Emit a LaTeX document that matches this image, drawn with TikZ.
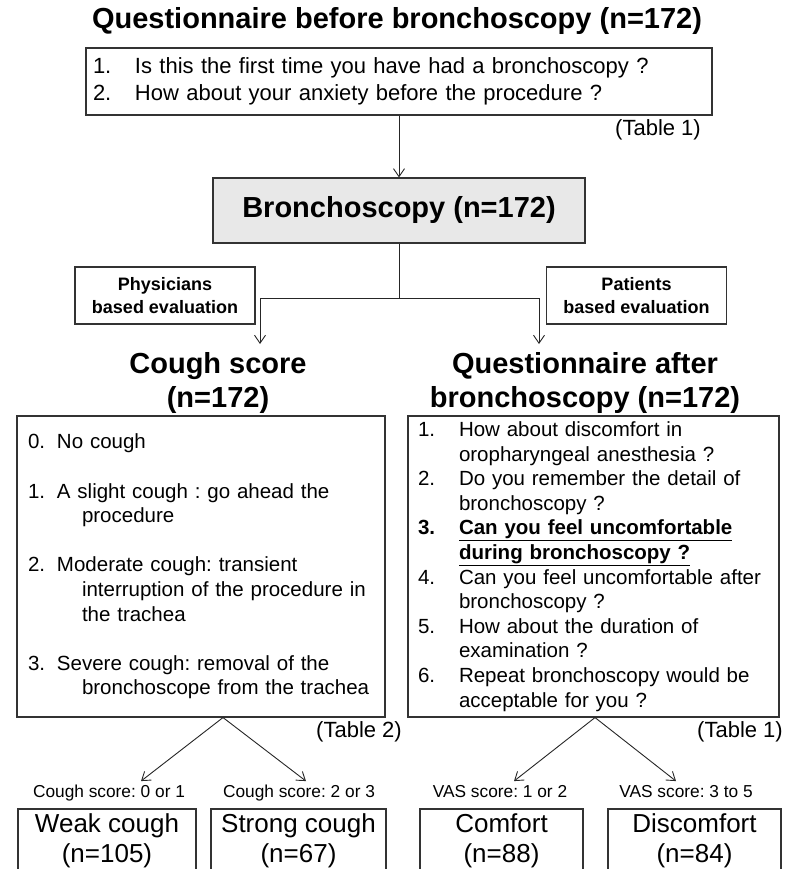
\documentclass[tikz,border=0pt]{standalone}
\usepackage{fontspec}
\setmainfont{Liberation Sans}
\usetikzlibrary{arrows.meta, positioning, calc}
\frenchspacing

\begin{document}
\begin{tikzpicture}[
    x=1pt, y=-1pt,
    >={Straight Barb[length=8pt,width=11pt]},
    every node/.style={align=center, text=black},
    line/.style={line width=0.9pt, draw=black!85},
    arr/.style={->, line width=0.9pt, draw=black!85},
    ttl/.style={font=\fontsize{29}{34}\selectfont\bfseries, inner sep=0pt},
    listbox/.style={
      rectangle, draw=black!80, line width=1.1pt,
      align=left, inner xsep=10pt, inner ysep=0pt
    },
    bronbox/.style={
      rectangle, draw=black!80, line width=1.1pt, fill=black!9,
      minimum width=372pt, minimum height=65pt,
      font=\fontsize{29}{34}\selectfont\bfseries
    },
    evalbox/.style={
      rectangle, draw=black!80, line width=1.1pt,
      minimum width=180pt, minimum height=57pt, inner sep=0pt,
      font=\fontsize{18}{23}\selectfont\bfseries
    },
    grpbox/.style={
      rectangle, draw=black!80, line width=1.1pt,
      minimum height=64pt, inner sep=0pt,
      font=\fontsize{26}{29.5}\selectfont
    },
    cut/.style={font=\fontsize{17.3}{20}\selectfont, inner sep=1pt,
      text height=0.73em, text depth=0.21em},
    tabref/.style={font=\fontsize{22}{26}\selectfont, inner sep=0pt, anchor=east}
  ]

    \useasboundingbox (0,0) rectangle (788,869);
    \clip (0,0) rectangle (788,869);

    % Questionnaire before the procedure
    \node[ttl] (pretitle) at (397,21) {Questionnaire before bronchoscopy (n=172)};
    \node[listbox, text width=612pt, inner xsep=7pt, minimum height=67pt,
          font=\fontsize{22}{27}\selectfont] (pre) at (399,81.5) {%
      \makebox[42pt][l]{1.}Is this the first time you have had a bronchoscopy ?\\
      \makebox[42pt][l]{2.}How about your anxiety before the procedure ?};
    \node[tabref] (pretab) at (701,130) {(Table 1)};

    % Procedure
    \node[bronbox] (bron) at (399,210.5) {Bronchoscopy (n=172)};
    \draw[arr] (pre.south) -- (bron.north);

    \coordinate (split) at (399,298);
    \coordinate (tocough) at (260,344);
    \coordinate (toqa) at (539,344);
    \draw[line] (bron.south) -- (split);
    \draw[arr] (split) -| (tocough);
    \draw[arr] (split) -| (toqa);

    \node[evalbox] (phys) at (165,295.5) {Physicians\\based evaluation};
    \node[evalbox] (pat) at (636.5,295.5) {Patients\\based evaluation};

    % Left column
    \node[ttl] (coughttl) at (218,383) {Cough score\\(n=172)};
    \node[listbox, text width=346pt, inner xsep=11pt, minimum height=301pt,
          font=\fontsize{20.5}{24.6}\selectfont] (cough) at (201,566.5) {%
      \makebox[29pt][l]{0.}No cough\\[24.6pt]
      \makebox[29pt][l]{1.}A slight cough : go ahead the\\
      \hspace*{54pt}procedure\\[24.6pt]
      \makebox[29pt][l]{2.}Moderate cough: transient\\
      \hspace*{54pt}interruption of the procedure in\\
      \hspace*{54pt}the trachea\\[24.6pt]
      \makebox[29pt][l]{3.}Severe cough: removal of the\\
      \hspace*{54pt}bronchoscope from the trachea};
    \node[tabref] (coughtab) at (402,732) {(Table 2)};

    \coordinate (coughsplit) at ([xshift=22pt]cough.south);
    \node[cut] (lweak) at (109,795) {Cough score: 0 or 1};
    \node[cut] (lstrong) at (299,795) {Cough score: 2 or 3};
    \draw[arr] (coughsplit) -- ([xshift=32pt,yshift=8pt]lweak.north);
    \draw[arr] (coughsplit) -- ([xshift=7pt,yshift=8pt]lstrong.north);

    \node[grpbox, minimum width=178pt] (weak) at (107,841) {Weak cough\\(n=105)};
    \node[grpbox, minimum width=175pt] (strong) at (298.5,841) {Strong cough\\(n=67)};

    % Right column
    \node[ttl] (qattl) at (585,383) {Questionnaire after\\bronchoscopy (n=172)};
    \node[listbox, text width=351pt, inner xsep=10pt, minimum height=301pt,
          font=\fontsize{20.5}{24.6}\selectfont] (qa) at (593.5,566.5) {%
      \makebox[41pt][l]{1.}How about discomfort in\\
      \hspace*{41pt}oropharyngeal anesthesia ?\\
      \makebox[41pt][l]{2.}Do you remember the detail of\\
      \hspace*{41pt}bronchoscopy ?\\
      \makebox[41pt][l]{\bfseries 3.}{\bfseries\underline{Can you feel uncomfortable}}\\
      \hspace*{41pt}{\bfseries\underline{during bronchoscopy ?}}\\
      \makebox[41pt][l]{4.}Can you feel uncomfortable after\\
      \hspace*{41pt}bronchoscopy ?\\
      \makebox[41pt][l]{5.}How about the duration of\\
      \hspace*{41pt}examination ?\\
      \makebox[41pt][l]{6.}Repeat bronchoscopy would be\\
      \hspace*{41pt}acceptable for you ?};
    \node[tabref] (qatab) at (783,732) {(Table 1)};

    \coordinate (qasplit) at ([xshift=1.5pt]qa.south);
    \node[cut] (lcomf) at (500,795) {VAS score: 1 or 2};
    \node[cut] (ldisc) at (686,795) {VAS score: 3 to 5};
    \draw[arr] (qasplit) -- ([xshift=14pt,yshift=8pt]lcomf.north);
    \draw[arr] (qasplit) -- ([xshift=-10pt,yshift=8pt]ldisc.north);

    \node[grpbox, minimum width=163pt] (comf) at (501.5,841) {Comfort\\(n=88)};
    \node[grpbox, minimum width=173pt] (disc) at (694.5,841) {Discomfort\\(n=84)};

  \end{tikzpicture}
\end{document}
